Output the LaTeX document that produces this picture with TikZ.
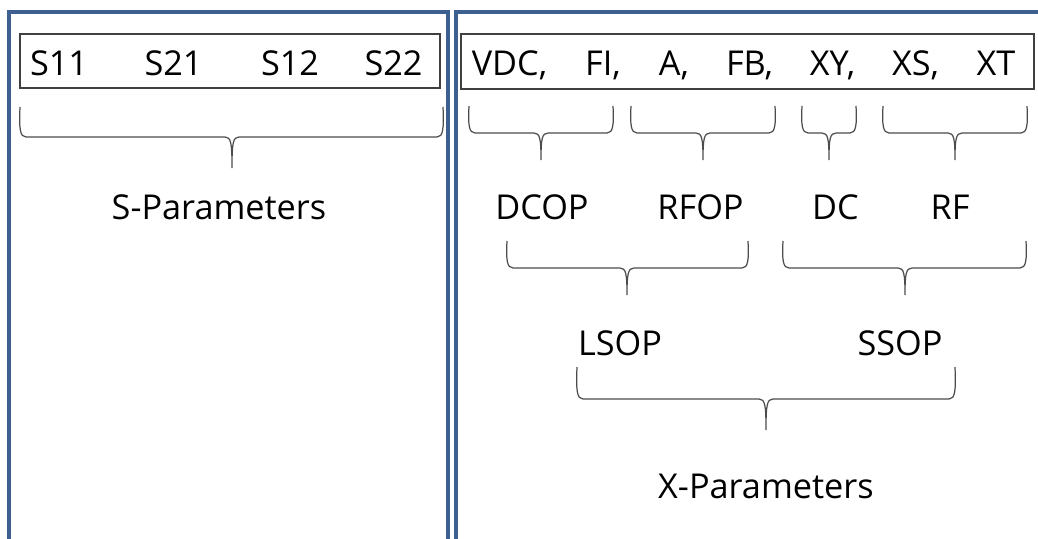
\documentclass[tikz,border=0pt]{standalone}
\usepackage{fontspec}
\setmainfont{Open Sans}
\usepackage{tikz}
\usetikzlibrary{positioning,calc}
\definecolor{panelblue}{RGB}{61,96,145}

\begin{document}
\begin{tikzpicture}[
  x=0.02cm, y=-0.02cm,
  panel/.style={draw=panelblue, line width=2pt},
  rowbox/.style={rectangle, draw=black!75, line width=0.85pt, inner sep=0pt},
  lbl/.style={inner sep=0pt, anchor=base, font=\fontsize{19.5}{23}\selectfont},
  brc/.style={draw=black!70, line width=0.7pt}
]
\useasboundingbox (0,0) rectangle (1038,538);
% panels
\draw[panel] (9,545) -- (9,12) -- (448,12) -- (448,545);
\draw[panel] (456,545) -- (456,12) -- (1045,12);
% parameter rows
\node[rowbox, minimum width=8.4cm, minimum height=1.08cm] (sbox) at (230,61) {};
\node[rowbox, minimum width=11.46cm, minimum height=1.1cm] (xbox) at (747.5,61.5) {};
\node[lbl] (s11) at (59,75)    {S11};
\node[lbl] (s21) at (173.5,75) {S21};
\node[lbl] (s12) at (290,75)   {S12};
\node[lbl] (s22) at (393.5,75) {S22};
\node[lbl] (vdc) at (509.5,75) {VDC,};
\node[lbl] (fi)  at (603,75)   {FI,};
\node[lbl] (a)   at (674,75)   {A,};
\node[lbl] (fb)  at (749.5,75) {FB,};
\node[lbl] (xy)  at (832.5,75) {XY,};
\node[lbl] (xs)  at (915.5,75) {XS,};
\node[lbl] (xt)  at (996,75)   {XT};
% groups
\node[lbl] (spar)  at (219,219)   {S-Parameters};
\node[lbl] (dcop)  at (542,219)   {DCOP};
\node[lbl] (rfop)  at (700.5,219) {RFOP};
\node[lbl] (dc)    at (835.5,219) {DC};
\node[lbl] (rf)    at (950,219)   {RF};
\node[lbl] (lsop)  at (620,355)   {LSOP};
\node[lbl] (ssop)  at (900,355)   {SSOP};
\node[lbl] (xpar)  at (766,498)   {X-Parameters};
% braces
\foreach \xa/\xb/\xt/\yt/\yb/\yp in {20/443/232/107/137/168,
    469/613/541/106/133/160, 631/775/703/106/133/160,
    802/856/829/106/133/160, 883/1027/955/106/133/160,
    507/748/627/241/268/295, 783/1026/905/241/268/295,
    577/955/766/367/399/430}
  \draw[brc] (\xa,\yt) .. controls (\xa-1,\yb-8) and (\xa,\yb) .. (\xa+6,\yb)
    -- (\xt-7,\yb) .. controls (\xt-1,\yb) and (\xt,\yb+6) .. (\xt,\yp)
    .. controls (\xt,\yb+6) and (\xt+1,\yb) .. (\xt+7,\yb)
    -- (\xb-6,\yb) .. controls (\xb,\yb) and (\xb+1,\yb-8) .. (\xb,\yt);
\end{tikzpicture}
\end{document}
